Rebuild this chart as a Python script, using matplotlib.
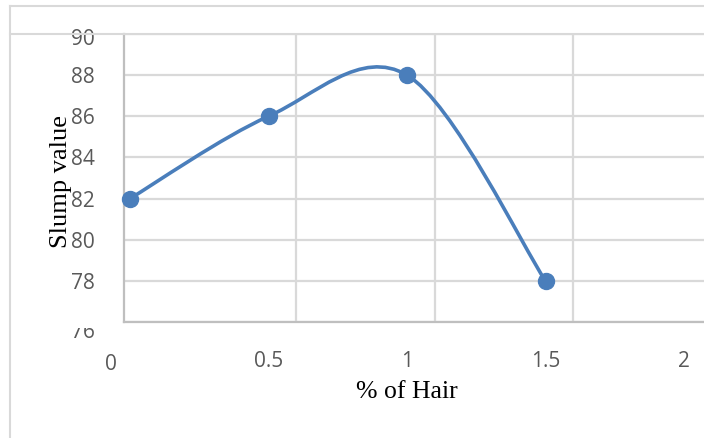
import matplotlib
matplotlib.use("Agg")
import matplotlib.pyplot as plt
from matplotlib.path import Path
from matplotlib.patches import PathPatch
from matplotlib.lines import Line2D
from matplotlib.transforms import ScaledTranslation, Bbox

# ---- data ----
hair_pct = [0.0, 0.5, 1.0, 1.5]
slump = [82, 86, 88, 78]
x_ticks = [0, 0.5, 1, 1.5, 2]
x_tick_labels = ["0", "0.5", "1", "1.5", "2"]
x_grid = [0.6, 1.1, 1.6]
y_ticks = [76, 78, 80, 82, 84, 86, 88, 90]
x_label = "% of Hair"
y_label = "Slump value"

W, H = 704, 438
fig = plt.figure(figsize=(W / 100, H / 100), dpi=100)

# axes placement (pixels)
ax_left, ax_top, ax_bottom = 124, 34, 322
xmin, xmax = -0.0217, 2.3
px_per_unit = 277.0
ax_right = ax_left + (xmax - xmin) * px_per_unit
ax = fig.add_axes([ax_left / W, 1 - ax_bottom / H,
                   (ax_right - ax_left) / W, (ax_bottom - ax_top) / H])
ax.set_xlim(xmin, xmax)
ax.set_ylim(76, 90)

blue = "#4A7EBB"
grid_c = "#D9D9D9"
axis_c = "#BFBFBF"
tick_c = "#595959"

# smooth curve (Excel-like Catmull-Rom Bezier) from data points
pts = list(zip(hair_pct, slump))
verts = [pts[0]]
codes = [Path.MOVETO]
n = len(pts)
for i in range(n - 1):
    p0 = pts[i - 1] if i > 0 else pts[i]
    p1 = pts[i]
    p2 = pts[i + 1]
    p3 = pts[i + 2] if i + 2 < n else pts[i + 1]
    c1 = (p1[0] + (p2[0] - p0[0]) / 6, p1[1] + (p2[1] - p0[1]) / 6)
    c2 = (p2[0] - (p3[0] - p1[0]) / 6, p2[1] - (p3[1] - p1[1]) / 6)
    verts += [c1, c2, p2]
    codes += [Path.CURVE4] * 3
patch = PathPatch(Path(verts, codes), facecolor="none", edgecolor=blue,
                  lw=2.6, transform=ax.transData, zorder=3, capstyle="round")
ax.add_patch(patch)
ax.plot(hair_pct, slump, "o", color=blue, ms=11.5, mec=blue, zorder=4, clip_on=False)

# ticks and grid
ax.set_xticks(x_ticks)
ax.set_xticklabels(x_tick_labels)
ax.set_xticks(x_grid, minor=True)
ax.set_yticks(y_ticks)
ax.grid(False)
ax.yaxis.grid(True, which="major", color=grid_c, lw=1.6, zorder=0)
ax.xaxis.grid(True, which="minor", color=grid_c, lw=1.6, zorder=0)
ax.set_axisbelow(True)
ax.tick_params(axis="both", which="both", length=0)
ax.tick_params(axis="x", which="major", pad=21, labelsize=15, labelcolor=tick_c)
ax.tick_params(axis="y", which="major", pad=21, labelsize=15, labelcolor=tick_c)
for lab in ax.get_xticklabels() + ax.get_yticklabels():
    lab.set_fontfamily("Open Sans")

for s in ["top", "right"]:
    ax.spines[s].set_visible(False)
for s in ["left", "bottom"]:
    ax.spines[s].set_color(axis_c)
    ax.spines[s].set_linewidth(1.6)

# label quirks of the original
xt = ax.xaxis.get_major_ticks()
xt[0].label1.set_transform(xt[0].label1.get_transform() +
                           ScaledTranslation(-19 / 100, -3 / 100, fig.dpi_scale_trans))
yt = ax.yaxis.get_major_ticks()
yt[-1].label1.set_transform(yt[-1].label1.get_transform() +
                            ScaledTranslation(0, -3 / 100, fig.dpi_scale_trans))
yt[0].label1.set_transform(yt[0].label1.get_transform() +
                           ScaledTranslation(0, -8 / 100, fig.dpi_scale_trans))
yt[0].label1.set_clip_box(Bbox([[0, 0], [W, H - 328]]))
yt[0].label1.set_clip_on(True)

# axis titles
ax.set_xlabel(x_label, fontfamily="Liberation Serif", fontsize=18.5, color="black")
ax.xaxis.set_label_coords((407 - ax_left) / (ax_right - ax_left),
                          (ax_bottom - 392) / (ax_bottom - ax_top))
ax.xaxis.label.set_va("center")
ax.set_ylabel(y_label, fontfamily="Liberation Serif", fontsize=19, color="black")
ax.yaxis.set_label_coords((61 - ax_left) / (ax_right - ax_left),
                          (ax_bottom - 181) / (ax_bottom - ax_top))
ax.yaxis.label.set_va("center")

# outer frame lines of the original
def fline(x0, y0, x1, y1):
    fig.add_artist(Line2D([x0 / W, x1 / W], [1 - y0 / H, 1 - y1 / H],
                          transform=fig.transFigure, color=grid_c, lw=1.5, zorder=10))

fline(10, 6, W, 6)
fline(10, 6, 10, H)
fline(10, 34, W, 34)

fig.savefig("out.png", dpi=100)
